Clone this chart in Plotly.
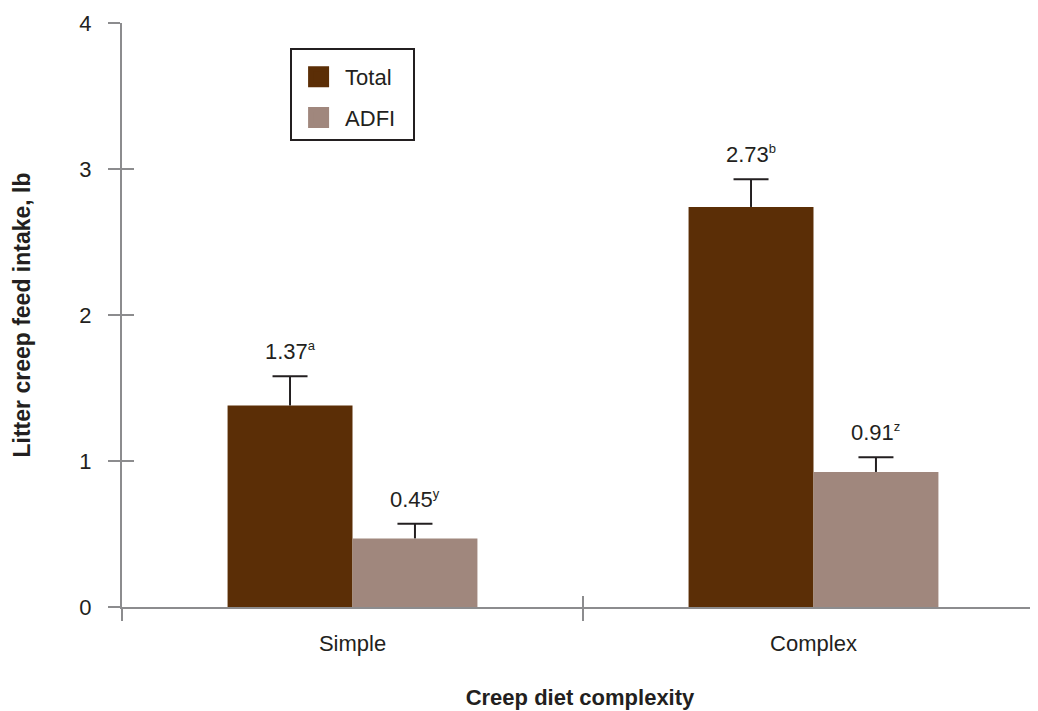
import plotly.graph_objects as go

categories = ["Simple", "Complex"]
total_vals = [1.38, 2.74]
total_err = [0.20, 0.19]
total_num = ["1.37", "2.73"]
total_sup = ["a", "b"]
adfi_vals = [0.47, 0.925]
adfi_err = [0.10, 0.10]
adfi_num = ["0.45", "0.91"]
adfi_sup = ["y", "z"]
y_ticks = [0, 1, 2, 3, 4]

FONT = "Liberation Sans, Arial, sans-serif"
TXT = "#231f20"
AX = "#8c8c8e"
C_TOTAL = "#5b2e06"
C_ADFI = "#a0877d"
BARGAP = 0.458
FS = 22


def lab(num, sup):
    return f"{num}<sup><span style='font-size:13px'>{sup}</span></sup>"


fig = go.Figure()
fig.add_trace(go.Bar(name="Total", x=categories, y=total_vals, marker_color=C_TOTAL,
                     marker_line_width=0, showlegend=False))
fig.add_trace(go.Bar(name="ADFI", x=categories, y=adfi_vals, marker_color=C_ADFI,
                     marker_line_width=0, showlegend=False))

# legend-only entries with large square swatches
for nm, col, grp in [("Total", C_TOTAL, "g1"), ("ADFI", C_ADFI, "g2")]:
    fig.add_trace(go.Scatter(x=[categories[0]], y=[None], mode="markers",
                             name=nm + "&nbsp;&nbsp;", legendgroup=grp,
                             marker=dict(symbol="square", size=16, color=col,
                                         line=dict(color=col, width=5)),
                             hoverinfo="skip"))

# error bars (upper only) drawn on overlay linear axis
off = (1 - BARGAP) / 4
ex, ey, cx, cy = [], [], [], []
for i in range(len(categories)):
    for xpos, v, e in [(i - off, total_vals[i], total_err[i]), (i + off, adfi_vals[i], adfi_err[i])]:
        ex += [xpos, xpos, None]
        ey += [v, v + e, None]
        cx.append(xpos)
        cy.append(v + e)
fig.add_trace(go.Scatter(x=ex, y=ey, xaxis="x2", yaxis="y2", mode="lines",
                         line=dict(color=TXT, width=2), showlegend=False, hoverinfo="skip"))
fig.add_trace(go.Scatter(x=cx, y=cy, xaxis="x2", yaxis="y2", mode="markers",
                         marker=dict(symbol="line-ew", size=25, line=dict(color=TXT, width=2)),
                         showlegend=False, hoverinfo="skip"))

for i, c in enumerate(categories):
    fig.add_annotation(x=i - off, y=total_vals[i] + total_err[i], text=lab(total_num[i], total_sup[i]),
                       showarrow=False, yanchor="bottom", yshift=10,
                       font=dict(family=FONT, size=FS, color=TXT))
    fig.add_annotation(x=i + off, y=adfi_vals[i] + adfi_err[i], text=lab(adfi_num[i], adfi_sup[i]),
                       showarrow=False, yanchor="bottom", yshift=10,
                       font=dict(family=FONT, size=FS, color=TXT))

xr = [-0.5, 1.487]
boundaries = [i - 0.5 for i in range(len(categories) + 1)]

fig.update_layout(
    width=1030, height=703,
    margin=dict(l=114, r=0, t=15, b=104),
    paper_bgcolor="white", plot_bgcolor="white",
    barmode="group", bargap=BARGAP, bargroupgap=0,
    font=dict(family=FONT, size=FS, color=TXT),
    showlegend=True,
    legend=dict(x=0.1835, y=0.958, xanchor="left", yanchor="top",
                bordercolor=TXT, borderwidth=2, bgcolor="white",
                font=dict(family=FONT, size=FS, color=TXT),
                title=dict(text="&nbsp;", font=dict(size=5)),
                traceorder="grouped", tracegroupgap=9, itemwidth=43, itemsizing="trace"),
    xaxis=dict(type="category", range=xr, showline=True, linecolor=AX, linewidth=2,
               ticks="outside", tickson="boundaries", ticklen=12, tickwidth=2, tickcolor=AX,
               showgrid=False, zeroline=False,
               tickfont=dict(family=FONT, size=FS, color=TXT), ticklabelstandoff=16,
               title=dict(text="<b>Creep diet complexity</b>", standoff=34,
                          font=dict(family=FONT, size=FS, color=TXT)),
               automargin=False),
    xaxis2=dict(overlaying="x", range=xr, tickvals=boundaries, ticks="inside", ticklen=11,
                tickwidth=2, tickcolor=AX, showticklabels=False, showline=False,
                showgrid=False, zeroline=False, side="bottom", anchor="y"),
    yaxis=dict(range=[0, 4], tickvals=y_ticks, showline=True, linecolor=AX, linewidth=2,
               ticks="outside", ticklen=12, tickwidth=2, tickcolor=AX,
               showgrid=False, zeroline=False,
               tickfont=dict(family=FONT, size=FS, color=TXT), ticklabelstandoff=12,
               title=dict(text="<b>Litter creep feed intake, lb</b>", standoff=42,
                          font=dict(family=FONT, size=23, color=TXT)),
               automargin=False),
    yaxis2=dict(overlaying="y", range=[0, 4], tickvals=y_ticks, ticks="inside", ticklen=12,
                tickwidth=2, tickcolor=AX, showticklabels=False, showline=False,
                showgrid=False, zeroline=False, side="left", anchor="x"),
)

fig.write_html("out.html", config={"displayModeBar": False})
